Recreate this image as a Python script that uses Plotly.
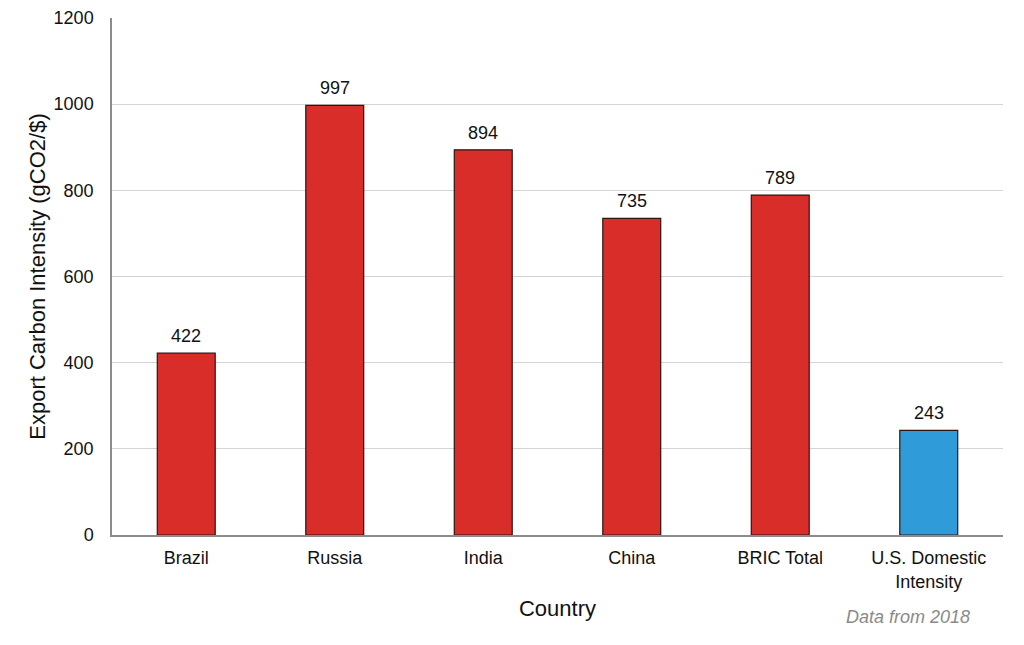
import plotly.graph_objects as go

categories = ["Brazil", "Russia", "India", "China", "BRIC Total", "U.S. Domestic<br>Intensity"]
values = [422, 997, 894, 735, 789, 243]
bar_colors = ["#D92D2A", "#D92D2A", "#D92D2A", "#D92D2A", "#D92D2A", "#2F9BD8"]
y_ticks = [0, 200, 400, 600, 800, 1000, 1200]

FONT = "Liberation Sans, Arial, sans-serif"

fig = go.Figure()
fig.add_trace(go.Bar(
    x=categories, y=values,
    marker=dict(color=bar_colors, line=dict(color="#2a1515", width=1.2)),
    width=0.39,
    hoverinfo="skip",
))

for c, v in zip(categories, values):
    fig.add_annotation(x=c, y=v, text=str(v), showarrow=False,
                       yanchor="bottom", yshift=5,
                       font=dict(family=FONT, size=18, color="#111"))

fig.add_annotation(xref="paper", yref="paper", x=0.893, y=-0.159,
                   text="<i>Data from 2018</i>", showarrow=False,
                   xanchor="center", yanchor="middle",
                   font=dict(family=FONT, size=18, color="#8a8a8a"))

# page body has an 8px margin, so the figure is offset by (8, 8)
fig.update_layout(
    width=1016, height=637,
    margin=dict(l=104, r=21, t=10, b=110),
    paper_bgcolor="white", plot_bgcolor="white",
    showlegend=False,
    font=dict(family=FONT, color="#111"),
    xaxis=dict(
        title=dict(text="Country", font=dict(family=FONT, size=22, color="#111"), standoff=10),
        tickfont=dict(family=FONT, size=18, color="#111"),
        showline=True, linecolor="#8c8c8c", linewidth=1.5,
        ticks="", showgrid=False, automargin=False,
        ticklabelstandoff=6,
    ),
    yaxis=dict(
        title=dict(text="Export Carbon Intensity (gCO2/$)", font=dict(family=FONT, size=22, color="#111"), standoff=2),
        tickfont=dict(family=FONT, size=18, color="#111"),
        range=[0, 1200], tickvals=y_ticks,
        showline=True, linecolor="#8c8c8c", linewidth=1.5,
        showgrid=True, gridcolor="#d4d4d4", gridwidth=1,
        zeroline=False, ticks="", automargin=False,
        ticklabelstandoff=13,
    ),
)

fig.write_html("out.html")
